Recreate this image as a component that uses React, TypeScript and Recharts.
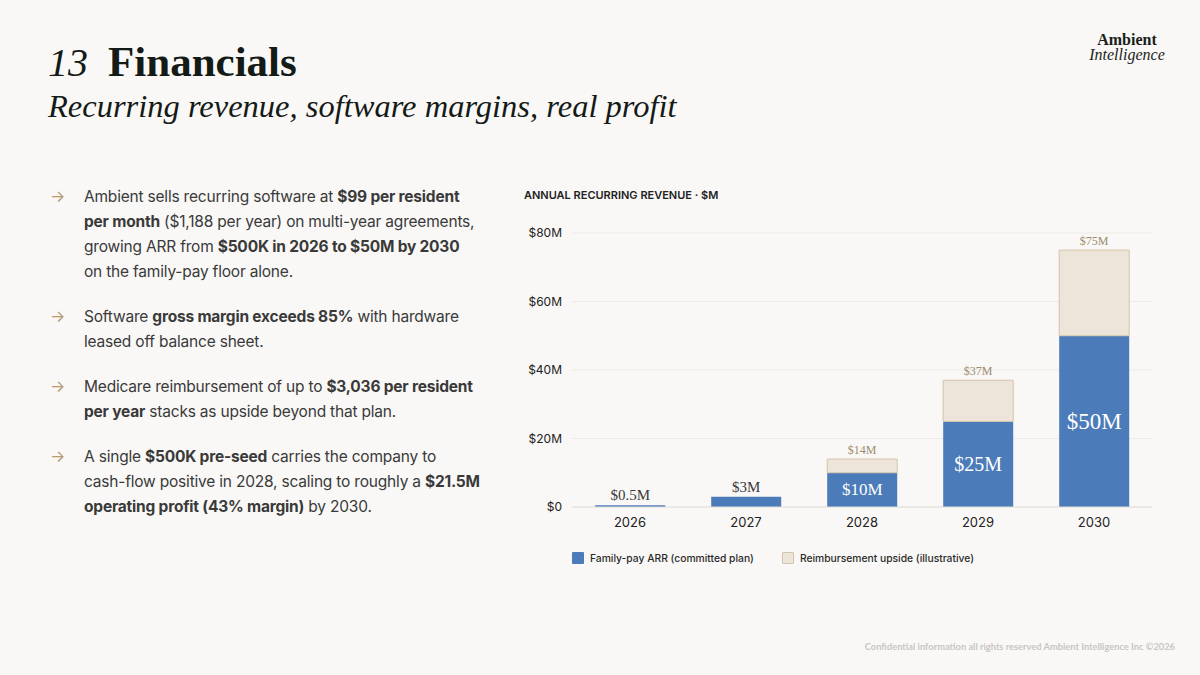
import React from "react";
import {
  Bar,
  XAxis,
  YAxis,
  BarChart,
  LabelList,
  CartesianGrid,
} from "recharts";

const years = ["2026", "2027", "2028", "2029", "2030"];
const familyPay = [0.5, 3, 10, 25, 50];
const upside = [0, 0, 4, 12, 25];
const yTicks = [0, 20, 40, 60, 80];

const data = years.map((year, i) => ({
  year,
  family: familyPay[i],
  upside: upside[i],
  total: familyPay[i] + upside[i],
}));

const BLUE = "#4b7bb8";
const BEIGE = "#ede5d9";
const BEIGE_EDGE = "#d3c4aa";
const BG = "#f9f8f6";
const SERIF = "'Liberation Serif', 'DejaVu Serif', serif";
const SANS = "Inter, 'Noto Sans', sans-serif";

const fmt = (v: number) => `$${v}M`;
const rowByTotal = (v: number) => data.find((d) => d.total === v);

// value inside the blue bar, only when the bar is tall enough
const InnerLabel = (props: any) => {
  const { x, y, width, height, value } = props;
  if (value < 10) return null;
  const size = value >= 50 ? 23 : value >= 25 ? 20 : 17;
  return (
    <text
      x={x + width / 2}
      y={y + height / 2}
      textAnchor="middle"
      dominantBaseline="central"
      fill="#ffffff"
      fontFamily={SERIF}
      fontSize={size}
    >
      {fmt(value)}
    </text>
  );
};

// total above a bar with no upside stacked on it (dark)
const PlainTotal = (props: any) => {
  const { x, y, width, value } = props;
  const row = rowByTotal(value);
  if (!row || row.upside > 0) return null;
  return (
    <text
      x={x + width / 2}
      y={y - 5}
      textAnchor="middle"
      fill="#3a3a3a"
      fontFamily={SERIF}
      fontSize={15}
    >
      {fmt(value)}
    </text>
  );
};

// total above the upside segment (gold)
const UpsideTotal = (props: any) => {
  const { x, y, width, value } = props;
  const row = rowByTotal(value);
  if (!row || row.upside <= 0) return null;
  return (
    <text
      x={x + width / 2}
      y={y - 5}
      textAnchor="middle"
      fill="#9c8b6c"
      fontFamily={SERIF}
      fontSize={12}
    >
      {fmt(value)}
    </text>
  );
};

const bullets: React.ReactNode[] = [
  <>
    Ambient sells recurring software at <b>$99 per resident</b>
    <br />
    <b>per month</b> ($1,188 per year) on multi-year agreements,
    <br />
    growing ARR from <b>$500K in 2026 to $50M by 2030</b>
    <br />
    on the family-pay floor alone.
  </>,
  <>
    Software <b>gross margin exceeds 85%</b> with hardware
    <br />
    leased off balance sheet.
  </>,
  <>
    Medicare reimbursement of up to <b>$3,036 per resident</b>
    <br />
    <b>per year</b> stacks as upside beyond that plan.
  </>,
  <>
    A single <b>$500K pre-seed</b> carries the company to
    <br />
    cash-flow positive in 2028, scaling to roughly a <b>$21.5M</b>
    <br />
    <b>operating profit (43% margin)</b> by 2030.
  </>,
];

const LegendSwatch = ({ color, edge, label }: { color: string; edge?: string; label: string }) => (
  <div style={{ display: "flex", alignItems: "center", marginRight: 28 }}>
    <div
      style={{
        width: 12,
        height: 12,
        background: color,
        border: edge ? `1px solid ${edge}` : "none",
        boxSizing: "border-box",
        borderRadius: 1,
        marginRight: 6,
      }}
    />
    <span style={{ fontSize: 10.3, fontWeight: 500, color: "#2a2a2a" }}>{label}</span>
  </div>
);

export default function App() {
  return (
    <div
      style={{
        position: "absolute",
        left: 0,
        top: 0,
        width: 1200,
        height: 675,
        background: BG,
        fontFamily: SANS,
        overflow: "hidden",
      }}
    >
      {/* heading */}
      <div
        style={{
          position: "absolute",
          left: 48,
          top: 36,
          fontFamily: SERIF,
          color: "#141a16",
          fontSize: 43,
          lineHeight: "52px",
          whiteSpace: "nowrap",
        }}
      >
        <span style={{ fontStyle: "italic", fontSize: 40 }}>13</span>
        <span style={{ fontWeight: 700, marginLeft: 20 }}>Financials</span>
      </div>
      <div
        style={{
          position: "absolute",
          left: 48,
          top: 86,
          fontFamily: SERIF,
          fontStyle: "italic",
          color: "#141a16",
          fontSize: 32.5,
          lineHeight: "40px",
          whiteSpace: "nowrap",
        }}
      >
        Recurring revenue, software margins, real profit
      </div>

      {/* wordmark */}
      <div
        style={{
          position: "absolute",
          left: 1080,
          top: 32,
          width: 94,
          textAlign: "center",
          fontFamily: SERIF,
          color: "#1b1f1c",
          fontSize: 16,
          lineHeight: "15px",
        }}
      >
        <div style={{ fontWeight: 700 }}>Ambient</div>
        <div style={{ fontStyle: "italic" }}>Intelligence</div>
      </div>

      {/* bullet points */}
      <div style={{ position: "absolute", left: 50, top: 184, width: 460 }}>
        {bullets.map((b, i) => (
          <div key={i} style={{ display: "flex", marginBottom: 20 }}>
            <div
              style={{
                width: 34,
                flexShrink: 0,
                color: "#b8996c",
                fontSize: 16,
                lineHeight: "25px",
              }}
            >
              →
            </div>
            <div
              style={{
                fontSize: 15.5,
                lineHeight: "25px",
                color: "#3a3a3a",
                whiteSpace: "nowrap",
                letterSpacing: -0.2,
              }}
            >
              {b}
            </div>
          </div>
        ))}
      </div>

      {/* chart */}
      <div
        style={{
          position: "absolute",
          left: 524,
          top: 188,
          fontSize: 11,
          fontWeight: 600,
          color: "#222",
        }}
      >
        ANNUAL RECURRING REVENUE · $M
      </div>
      <div style={{ position: "absolute", left: 515, top: 220 }}>
        <BarChart
          width={660}
          height={317}
          data={data}
          margin={{ top: 13, right: 23, bottom: 0, left: 7 }}
          barCategoryGap="20%"
        >
          <CartesianGrid vertical={false} stroke="#edebe7" />
          <XAxis
            dataKey="year"
            height={30}
            tickLine={false}
            tickMargin={5}
            axisLine={{ stroke: "#e2dfda" }}
            tick={{ fill: "#222", fontSize: 13, fontFamily: SANS }}
          />
          <YAxis
            width={50}
            domain={[0, 80]}
            ticks={yTicks}
            tickLine={false}
            axisLine={false}
            tickMargin={4}
            tickFormatter={(v: number) => (v === 0 ? "$0" : `$${v}M`)}
            tick={{ fill: "#222", fontSize: 12, fontFamily: SANS }}
          />
          <Bar dataKey="family" stackId="arr" fill={BLUE} isAnimationActive={false}>
            <LabelList dataKey="family" content={InnerLabel} />
            <LabelList dataKey="total" content={PlainTotal} />
          </Bar>
          <Bar
            dataKey="upside"
            stackId="arr"
            fill={BEIGE}
            stroke={BEIGE_EDGE}
            strokeWidth={1}
            isAnimationActive={false}
          >
            <LabelList dataKey="total" content={UpsideTotal} />
          </Bar>
        </BarChart>
      </div>
      <div style={{ position: "absolute", left: 572, top: 552, display: "flex" }}>
        <LegendSwatch color={BLUE} label="Family-pay ARR (committed plan)" />
        <LegendSwatch color={BEIGE} edge={BEIGE_EDGE} label="Reimbursement upside (illustrative)" />
      </div>

      {/* footer */}
      <div
        style={{
          position: "absolute",
          right: 25,
          top: 641,
          fontSize: 9.3,
          color: "#c8c6c2",
          fontFamily: "Lato, sans-serif",
          fontWeight: 700,
        }}
      >
        Confidential information all rights reserved Ambient Intelligence Inc ©2026
      </div>
    </div>
  );
}
